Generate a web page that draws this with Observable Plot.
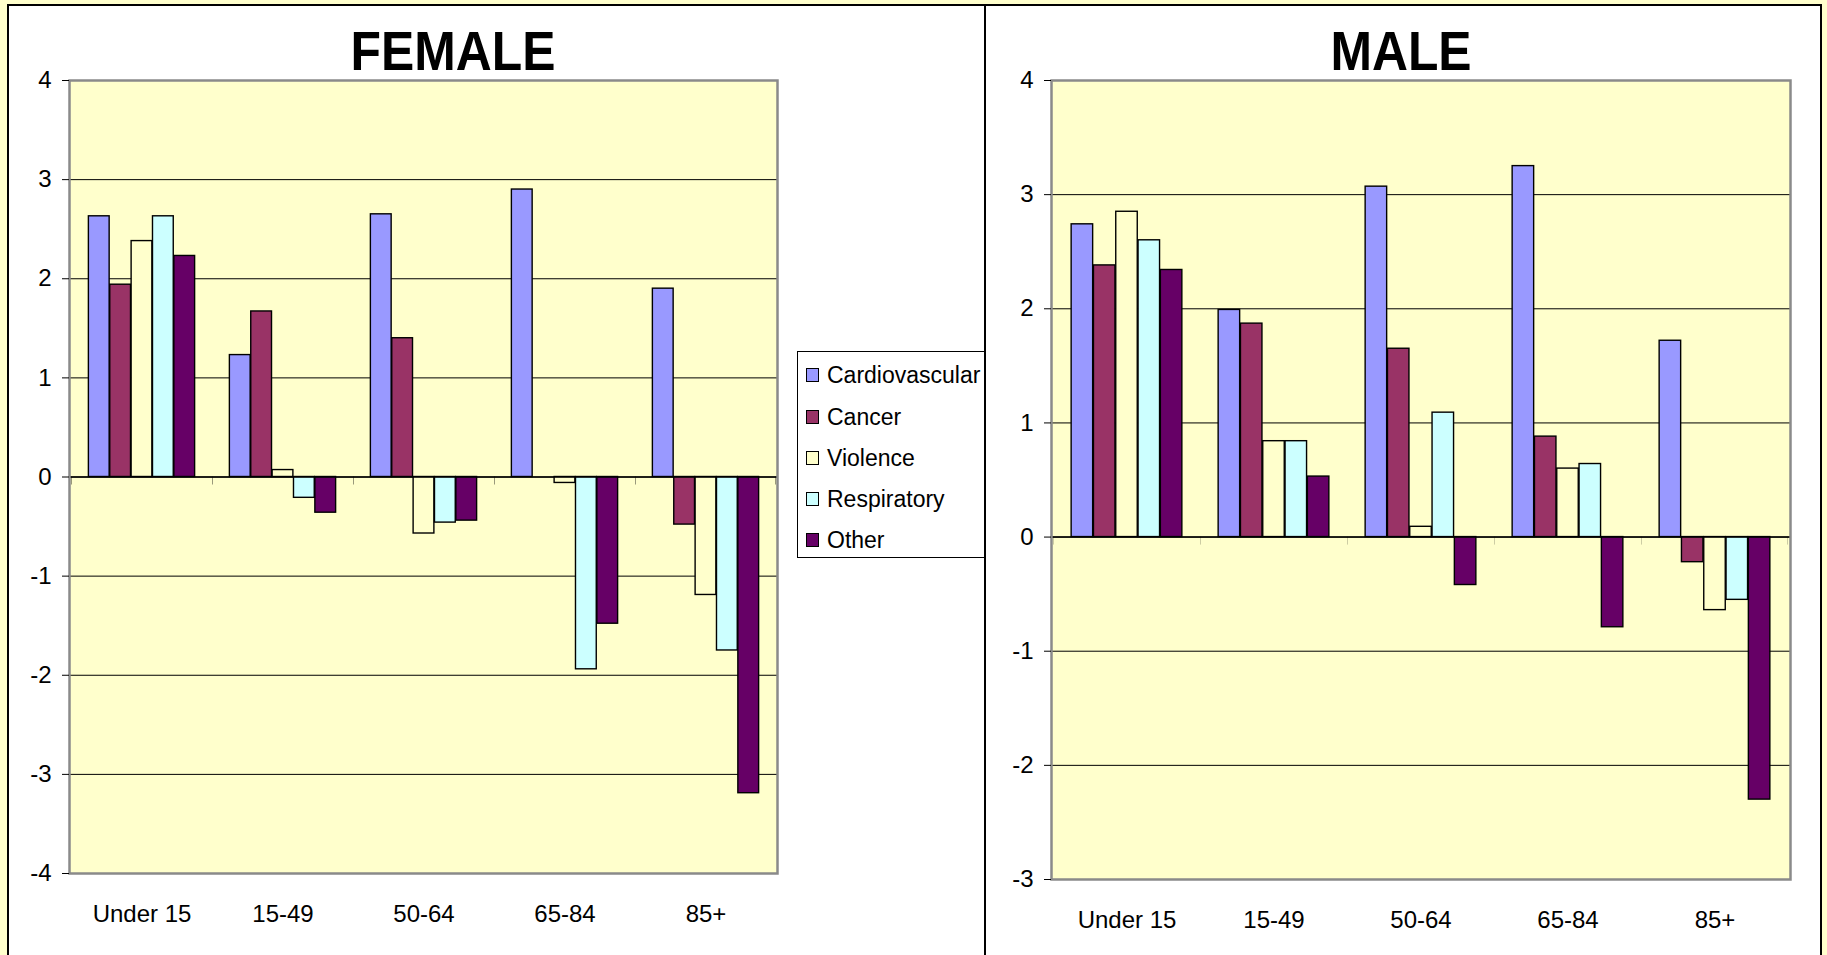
<!DOCTYPE html>
<html>
<head>
<meta charset="utf-8">
<script src="https://cdn.jsdelivr.net/npm/d3@7"></script>
<script src="https://cdn.jsdelivr.net/npm/@observablehq/plot@0.6"></script>
<style>
  html, body { margin: 0; padding: 0; }
  body {
    width: 1827px; height: 955px; overflow: hidden; position: relative;
    background: #FFFFCC;
    font-family: "Liberation Sans", Arial, sans-serif; color: #000;
  }
  .panel { position: absolute; background: #fff; border: 2px solid #000; box-sizing: border-box; }
  #femalePanel { left: 7px; top: 4px; width: 980px; height: 1000px; }
  #malePanel { left: 984px; top: 4px; width: 838px; height: 1000px; }
  .chart { position: absolute; top: 0; }
  #femaleChart { left: 0px; }
  #maleChart { left: 985px; }
  .title {
    position: absolute; width: 600px; text-align: center;
    font-weight: bold; font-size: 56px; line-height: 56px; top: 23px;
    transform: scaleX(0.89); transform-origin: center;
  }
  #legend {
    position: absolute; left: 797px; top: 351px; width: 188px; height: 207px;
    border: 1px solid #000; box-sizing: border-box; background: #fff;
  }
  .item { position: absolute; left: 0; height: 28px; line-height: 28px; font-size: 23px; white-space: nowrap; }
  .sw { position: absolute; left: 8px; top: 7px; width: 11px; height: 12px; border: 1px solid #000; }
  .lbl { position: absolute; left: 29px; top: 0; }
</style>
</head>
<body>
<div class="panel" id="femalePanel"></div>
<div class="panel" id="malePanel"></div>
<div class="chart" id="femaleChart"></div>
<div class="chart" id="maleChart"></div>
<div class="title" id="femaleTitle" style="left:153px">FEMALE</div>
<div class="title" id="maleTitle" style="left:1101px">MALE</div>
<div id="legend"></div>
<script>
// ---- Data ----
const ageGroups = ["Under 15", "15-49", "50-64", "65-84", "85+"];
const causes = ["Cardiovascular", "Cancer", "Violence", "Respiratory", "Other"];
const causeColors = ["#9999FF", "#993366", "#FFFFCC", "#CCFFFF", "#660066"];

const femaleCardiovascular = [2.63, 1.23, 2.65, 2.90, 1.90];
const femaleCancer         = [1.94, 1.67, 1.40, 0.00, -0.48];
const femaleViolence       = [2.38, 0.07, -0.57, -0.06, -1.19];
const femaleRespiratory    = [2.63, -0.21, -0.46, -1.94, -1.75];
const femaleOther          = [2.23, -0.36, -0.44, -1.48, -3.19];

const maleCardiovascular = [2.74, 1.99, 3.07, 3.25, 1.72];
const maleCancer         = [2.38, 1.87, 1.65, 0.88, -0.22];
const maleViolence       = [2.85, 0.84, 0.09, 0.60, -0.64];
const maleRespiratory    = [2.60, 0.84, 1.09, 0.64, -0.55];
const maleOther          = [2.34, 0.53, -0.42, -0.79, -2.30];

const femaleYTicks = [-4, -3, -2, -1, 0, 1, 2, 3, 4];
const maleYTicks = [-3, -2, -1, 0, 1, 2, 3, 4];

// ---- Chart builder ----
function makePanel({series, yTicks, width, height, marginLeft, marginRight, marginTop, marginBottom}) {
  const rows = [];
  causes.forEach((c, ci) => ageGroups.forEach((g, gi) => rows.push({group: g, cause: c, ci, value: series[ci][gi]})));
  const yDomain = [d3.min(yTicks), d3.max(yTicks)];
  const plotW = width - marginLeft - marginRight;
  const plotH = height - marginTop - marginBottom;
  const bw = plotW / ageGroups.length;
  const barW = bw * 0.1509;
  const inset = (bw - barW) / 2;
  const tickLen = 8 * (yDomain[1] - yDomain[0]) / plotH;

  const bars = causes.map((c, ci) => Plot.barY(rows.filter(r => r.ci === ci), {
    x: "group", y1: 0, y2: "value",
    fill: causeColors[ci], stroke: "#000", strokeWidth: 1.4,
    insetLeft: inset, insetRight: inset, dx: (ci - 2) * barW
  }));

  return Plot.plot({
    width, height, marginLeft, marginRight, marginTop, marginBottom,
    x: {domain: ageGroups, padding: 0, label: null},
    y: {domain: yDomain, label: null},
    style: {background: "transparent", fontFamily: '"Liberation Sans", Arial, sans-serif', fontSize: "24px", color: "#000", overflow: "visible"},
    marks: [
      Plot.frame({fill: "#FFFFCC", stroke: null}),
      Plot.gridY(yTicks, {stroke: "#000", strokeOpacity: 1, strokeWidth: 1}),
      ...bars,
      Plot.ruleY([0], {stroke: "#000", strokeWidth: 1.5}),
      // category separator ticks below the zero line
      Plot.barY(ageGroups, {x: d => d, y1: 0, y2: -tickLen, fill: "#000", insetLeft: 0, insetRight: bw - 1}),
      Plot.barY(ageGroups.slice(-1), {x: d => d, y1: 0, y2: -tickLen, fill: "#000", insetLeft: bw - 1, insetRight: 0}),
      Plot.frame({stroke: "#8a8a8a", strokeWidth: 2.5}),
      Plot.axisY(yTicks, {tickSize: 7, tickPadding: 11, fontSize: 24, stroke: "#000", tickFormat: d => String(d)}),
      Plot.axisX({tickSize: 0, tickPadding: 31, fontSize: 24})
    ]
  });
}

const female = makePanel({
  series: [femaleCardiovascular, femaleCancer, femaleViolence, femaleRespiratory, femaleOther],
  yTicks: femaleYTicks, width: 790, height: 955,
  marginLeft: 69, marginRight: 13, marginTop: 80, marginBottom: 82
});
document.getElementById("femaleChart").appendChild(female);

const male = makePanel({
  series: [maleCardiovascular, maleCancer, maleViolence, maleRespiratory, maleOther],
  yTicks: maleYTicks, width: 820, height: 955,
  marginLeft: 66, marginRight: 15, marginTop: 80, marginBottom: 76
});
document.getElementById("maleChart").appendChild(male);

// ---- Legend ----
const legend = document.getElementById("legend");
const legendCenters = [23, 65, 105.5, 147, 188];
causes.forEach((c, i) => {
  const item = document.createElement("div");
  item.className = "item";
  item.style.top = (legendCenters[i] - 14) + "px";
  const sw = document.createElement("div");
  sw.className = "sw";
  sw.style.background = causeColors[i];
  const lbl = document.createElement("div");
  lbl.className = "lbl";
  lbl.textContent = c;
  item.appendChild(sw); item.appendChild(lbl);
  legend.appendChild(item);
});
</script>
</body>
</html>
